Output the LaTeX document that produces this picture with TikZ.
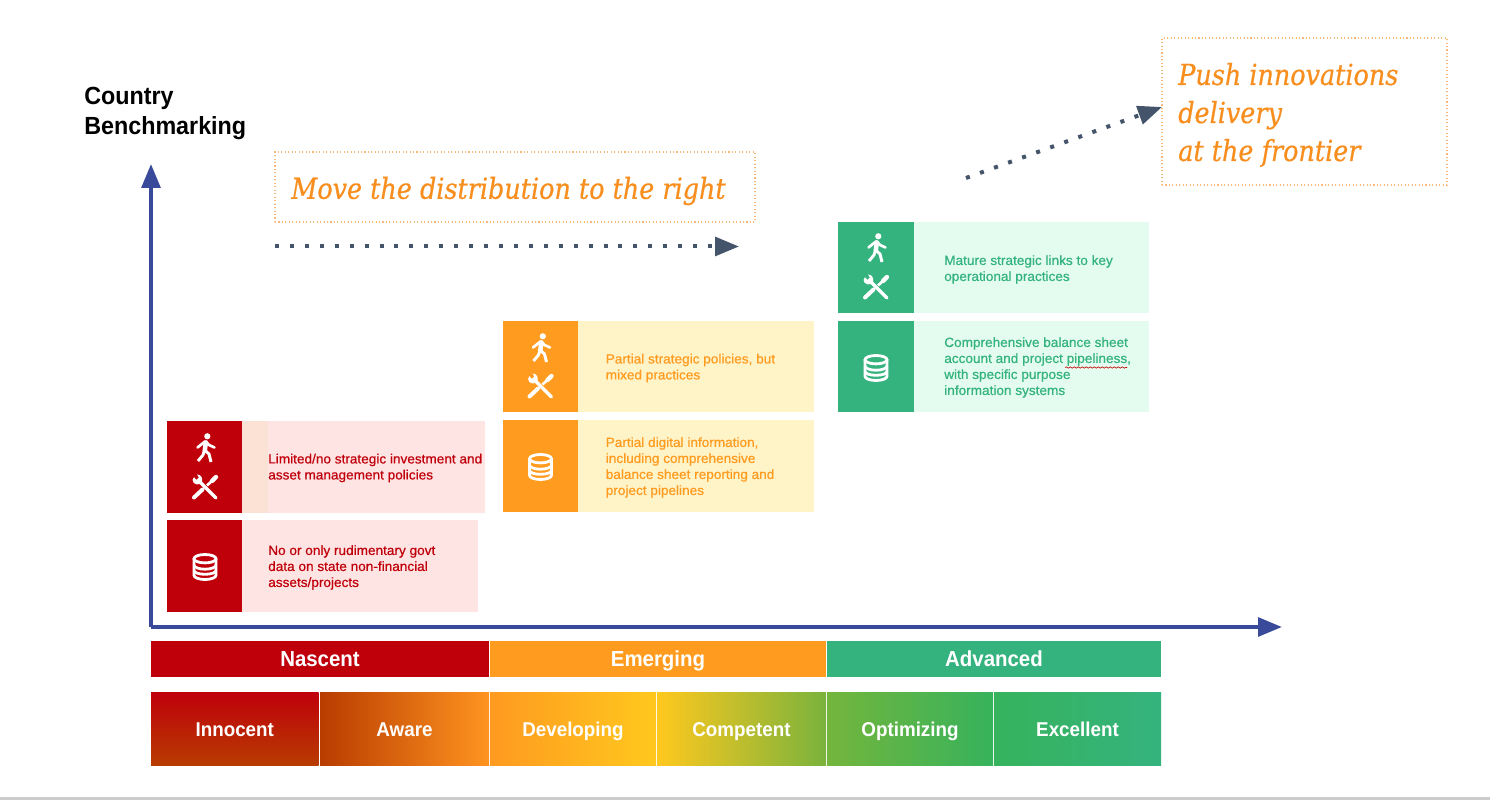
\documentclass[tikz,border=0pt]{standalone}
\usepackage{fontspec}
\usetikzlibrary{arrows.meta,decorations.pathmorphing}
\setmainfont{Liberation Sans}
\newfontfamily\bodyf[FakeBold=0.6,FakeStretch=1.02]{Liberation Sans}
\newfontfamily\headf[FakeStretch=0.94]{Liberation Sans Bold}
\newfontfamily\slabf[FakeStretch=0.88,FakeBold=0.5]{DejaVu Serif Italic}
\definecolor{cred}{HTML}{BF000B}
\definecolor{cltred}{HTML}{FFE4E4}
\definecolor{cstripe}{HTML}{FBE2D4}
\definecolor{corg}{HTML}{FF9B1E}
\definecolor{cltorg}{HTML}{FFF3C8}
\definecolor{cgrn}{HTML}{35B37E}
\definecolor{cltgrn}{HTML}{E3FCEF}
\definecolor{caxis}{HTML}{3A4A9A}
\definecolor{cdot}{HTML}{44546A}
\definecolor{cslab}{HTML}{F78E1E}
\definecolor{cbox}{HTML}{F9B878}
\definecolor{c1}{HTML}{B83C00}
\definecolor{c2}{HTML}{FF9420}
\definecolor{c3}{HTML}{FF9A20}
\definecolor{c4}{HTML}{FFC81E}
\definecolor{c5}{HTML}{7AB33C}
\definecolor{c6}{HTML}{74B53C}
\definecolor{c7}{HTML}{36B35C}
\newcommand{\bx}[7]{\node[boxbase,#1,minimum width={(#5-#3)*0.75pt},minimum height={(#6-#4)*0.75pt}] (#2) at ({(#3+#5)/2},{(#4+#6)/2}) {#7};}
\tikzset{
  x=0.75pt,y=-0.75pt,
  boxbase/.style={inner sep=0pt,outer sep=0pt,draw=none,anchor=center},
  bartext/.style={text=white,font=\headf\fontsize{16.3}{18}\selectfont,text height=15pt,text depth=3.4pt},
  steptext/.style={text=white,font=\headf\fontsize{15}{18}\selectfont,text height=15.4pt,text depth=3.2pt},
  paneltext/.style={anchor=west,align=left,inner sep=0pt,font=\bodyf\fontsize{10}{12}\selectfont},
  axisline/.style={draw=caxis,line width=3pt,-{Triangle[length=18pt,width=14pt]}},
  dotline/.style={draw=cdot,line width=3pt,dash pattern=on 3pt off 8.2pt,-{Triangle[length=18pt,width=14pt]}},
  slabbox/.style={draw=cbox,line width=0.8pt,dash pattern=on 0.8pt off 1.8pt},
  slabtext/.style={anchor=west,align=left,inner sep=0pt,text=cslab,font=\slabf\fontsize{21.7}{28.5}\selectfont},
  pics/walker/.style={code={
    \fill[white] (2.3,-11.7) circle (3.1);
    \draw[white,line width=3.4pt,line cap=round,line join=round] (0.8,-5.5) -- (-0.2,2.5);
    \draw[white,line width=2pt,line cap=round,line join=round] (0,-6.5) -- (-7.5,-0.5);
    \draw[white,line width=2pt,line cap=round,line join=round] (1,-6.5) -- (4,-3) -- (9.5,-0.5);
    \draw[white,line width=2.2pt,line join=round] (-0.5,2) -- (-2,7) -- (-7,13);
    \draw[white,line width=2.2pt,line join=round] (-0.5,2) -- (4,6) -- (6,14);
  }},
  pics/tools/.style={code={
    \draw[white,line width=2.6pt,line cap=round] (11,11) -- (-6.5,-6.5);
    \fill[white,even odd rule] (-12.4,-7) .. controls (-12.5,-2) and (-5,-1) .. (-3,-5) .. controls (-2,-9) and (-4,-12.5) .. (-8,-12.5) -- (-6.2,-9.5) -- (-8.5,-7) -- (-11,-9.8) -- cycle;
    \draw[white,line width=3pt,line cap=round] (-11,10.5) -- (-2.5,2.5);
    \draw[white,line width=2pt] (2,-1.5) -- (8,-7);
    \draw[white,line width=3.2pt,line cap=round] (7,-6) -- (11,-10);
  }},
  pics/dbicon/.style={code={
    \draw[white,line width=2.1pt] (0,-8.3) ellipse [x radius=11,y radius=4.2];
    \draw[white,line width=2.1pt] (-11,-8.3) -- (-11,8.3) arc[start angle=180,end angle=360,x radius=11,y radius=-4.2] -- (11,-8.3);
    \draw[white,line width=2.1pt] (-11,-2) arc[start angle=180,end angle=360,x radius=11,y radius=-4.2];
    \draw[white,line width=2.1pt] (-11,3.5) arc[start angle=180,end angle=360,x radius=11,y radius=-3.8];
  }},
}
\begin{document}
\begin{tikzpicture}
\useasboundingbox (0,0) rectangle (1490,802);
\fill[white] (0,0) rectangle (1490,802);
\fill[black!20] (0,797) rectangle (1490,800);

% title
\node[anchor=west,align=left,inner sep=0pt,font=\headf\fontsize{18.6}{22.5}\selectfont] (title) at (84,113.5) {Country\\Benchmarking};

% slab boxes
\bx{slabbox}{movebox}{275}{152}{755}{222}{}
\node[slabtext] (movetext) at (291,191) {Move the distribution to the right};
\bx{slabbox}{pushbox}{1162}{38}{1447}{185}{}
\node[slabtext] (pushtext) at (1178,115) {Push innovations\\delivery\\at the frontier};

% axes
\coordinate (origin) at (151,627);
\coordinate (ytip) at (151,164);
\coordinate (xtip) at (1282,627);
\draw[axisline] (origin) -- (ytip);
\draw[axisline] (origin) -- (xtip);

% dotted arrows
\coordinate (d1a) at (275,246.5);
\coordinate (d1b) at (739,246.5);
\coordinate (d2a) at (966,178);
\coordinate (d2b) at (1162,107);
\draw[dotline] (d1a) -- (d1b);
\draw[dotline] (d2a) -- (d2b);

% red panels
\bx{fill=cltred}{r1bg}{242}{421}{485}{513}{}
\bx{fill=cstripe}{r1st}{242}{421}{268}{513}{}
\bx{fill=cred}{r1ic}{167}{421}{242}{513}{}
\bx{fill=cltred}{r2bg}{242}{520}{478}{612}{}
\bx{fill=cred}{r2ic}{167}{520}{242}{612}{}
\node[paneltext,text=cred] (r1t) at (268,468) {Limited/no strategic investment and\\asset management policies};
\node[paneltext,text=cred] (r2t) at (268,567.5) {No or only rudimentary govt\\data on state non-financial\\assets/projects};
\pic at (205,448) {walker};
\pic at (205,487) {tools};
\pic at (205,567) {dbicon};

% orange panels
\bx{fill=cltorg}{o1bg}{578}{321}{814}{412}{}
\bx{fill=corg}{o1ic}{503}{321}{578}{412}{}
\bx{fill=cltorg}{o2bg}{578}{420}{814}{512}{}
\bx{fill=corg}{o2ic}{503}{420}{578}{512}{}
\node[paneltext,text=corg] (o1t) at (605.5,368) {Partial strategic policies, but\\mixed practices};
\node[paneltext,text=corg] (o2t) at (605.5,467.5) {Partial digital information,\\including comprehensive\\balance sheet reporting and\\project pipelines};
\pic at (540.5,348) {walker};
\pic at (540.5,386) {tools};
\pic at (540.5,467) {dbicon};

% green panels
\bx{fill=cltgrn}{g1bg}{914}{222}{1149}{313}{}
\bx{fill=cgrn}{g1ic}{838}{222}{914}{313}{}
\bx{fill=cltgrn}{g2bg}{914}{321}{1149}{412}{}
\bx{fill=cgrn}{g2ic}{838}{321}{914}{412}{}
\node[paneltext,text=cgrn] (g1t) at (944,269.5) {Mature strategic links to key\\operational practices};
\node[paneltext,text=cgrn] (g2t) at (944,367.5) {Comprehensive balance sheet\\account and project pipeliness,\\with specific purpose\\information systems};
\draw[red!75!black,line width=0.5pt,decorate,decoration={snake,amplitude=0.5pt,segment length=3pt}] (1065,367.5) -- (1127,367.5);
\pic at (876,248) {walker};
\pic at (876,287) {tools};
\pic at (876,368) {dbicon};

% stage bars
\bx{fill=cred,bartext}{nascent}{151}{641}{489}{677}{Nascent}
\bx{fill=corg,bartext}{emerging}{490}{641}{826}{677}{Emerging}
\bx{fill=cgrn,bartext}{advanced}{827}{641}{1161}{677}{Advanced}

\bx{top color=cred,bottom color=c1,steptext}{innocent}{151}{692}{318.5}{765}{Innocent}
\bx{left color=c1,right color=c2,steptext}{aware}{320}{692}{489}{765}{Aware}
\bx{left color=c3,right color=c4,steptext}{developing}{490}{692}{656}{765}{Developing}
\bx{left color=c4,right color=c5,steptext}{competent}{657}{692}{826}{765}{Competent}
\bx{left color=c6,right color=c7,steptext}{optimizing}{827}{692}{993}{765}{Optimizing}
\bx{left color=c7,right color=cgrn,steptext}{excellent}{994}{692}{1161}{765}{Excellent}
\end{tikzpicture}
\end{document}
